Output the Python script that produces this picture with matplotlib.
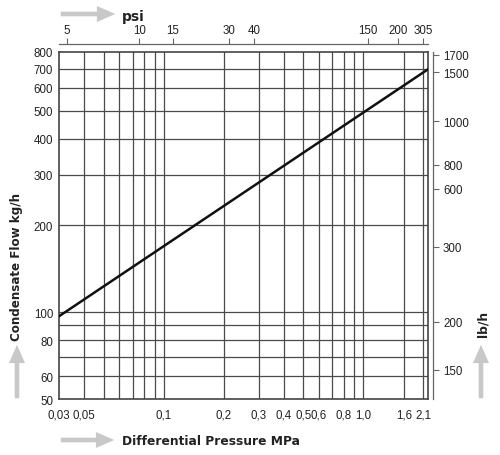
import matplotlib.pyplot as plt
from matplotlib import font_manager
from matplotlib.patches import FancyArrowPatch
from matplotlib.ticker import FixedLocator, NullLocator, FixedFormatter, NullFormatter

installed = {f.name for f in font_manager.fontManager.ttflist}
TICK_FONT = 'Liberation Sans Narrow' if 'Liberation Sans Narrow' in installed else 'Liberation Sans'
TICK_SIZE = 9.5 if TICK_FONT == 'Liberation Sans Narrow' else 8.3
plt.rcParams['font.family'] = [TICK_FONT, 'DejaVu Sans']

# line (MPa, kg/h)
pressure = [0.03, 2.1]
flow = [97, 695]

# bottom axis labels and where they sit
x_labels = ['0,03', '0,05', '0,1', '0,2', '0,3', '0,4', '0,5', '0,6', '0,8', '1,0', '1,6', '2,1']
x_label_pos = [0.03, 0.04, 0.1, 0.2, 0.3, 0.4, 0.5, 0.6, 0.8, 1.0, 1.6, 2.0]
x_grid = [0.04, 0.05, 0.06, 0.07, 0.08, 0.09, 0.1, 0.2, 0.3, 0.4, 0.5, 0.6,
          0.7, 0.8, 0.9, 1.0, 1.6, 2.0]

# left axis
y_labels = ['50', '60', '80', '100', '200', '300', '400', '500', '600', '700', '800']
y_label_pos = [50, 60, 80, 100, 200, 300, 400, 500, 600, 700, 800]
y_grid = [60, 70, 80, 90, 100, 200, 300, 400, 500, 600, 700]

# top axis (psi), positions in MPa as drawn
psi_labels = ['5', '10', '15', '30', '40', '150', '200', '305']
psi_pos = [0.0326, 0.0754, 0.111, 0.212, 0.284, 1.054, 1.494, 2.0]

# right axis (lb/h), positions in kg/h as drawn
lb_labels = ['1700', '1500', '1000', '800', '600', '300', '200', '150']
lb_pos = [782, 680, 460, 325, 268, 169, 92.7, 63.2]

GRID = '#4a4a4a'
EDGE = '#444444'
ARROW = '#c8c8c8'
TXT = '#222222'

fig = plt.figure(figsize=(5, 4.56), dpi=100)
ax = fig.add_axes([0.1186, 0.1228, 0.7364, 0.761])

ax.plot(pressure, flow, color='#111111', lw=1.8, zorder=5)
ax.set_xscale('log')
ax.set_yscale('log')
ax.set_xlim(0.03, 2.1)
ax.set_ylim(50, 800)

ax.xaxis.remove_overlapping_locs = False
ax.yaxis.remove_overlapping_locs = False
ax.xaxis.set_major_locator(FixedLocator(x_label_pos))
ax.xaxis.set_major_formatter(FixedFormatter(x_labels))
ax.xaxis.set_minor_locator(FixedLocator(x_grid))
ax.xaxis.set_minor_formatter(NullFormatter())
ax.yaxis.set_major_locator(FixedLocator(y_label_pos))
ax.yaxis.set_major_formatter(FixedFormatter(y_labels))
ax.yaxis.set_minor_locator(FixedLocator(y_grid))
ax.yaxis.set_minor_formatter(NullFormatter())
ax.grid(which='minor', color=GRID, lw=0.9)
ax.grid(which='major', visible=False)
ax.tick_params(which='both', length=0, labelsize=TICK_SIZE, colors=TXT)
ax.tick_params(axis='x', pad=7)
ax.tick_params(axis='y', pad=4.5)
for s in ax.spines.values():
    s.set_color(EDGE)
    s.set_linewidth(1.2)

# top psi axis
axt = ax.twiny()
axt.set_xscale('log')
axt.set_xlim(ax.get_xlim())
axt.xaxis.set_major_locator(FixedLocator(psi_pos))
axt.xaxis.set_major_formatter(FixedFormatter(psi_labels))
axt.xaxis.set_minor_locator(NullLocator())
axt.tick_params(axis='x', direction='out', length=4.5, width=0.8, color='#666666',
                labelsize=TICK_SIZE, labelcolor=TXT, pad=1.5)
for k in ['bottom', 'left', 'right']:
    axt.spines[k].set_visible(False)
axt.spines['top'].set_position(('outward', 5.5))
axt.spines['top'].set_color('#666666')
axt.spines['top'].set_linewidth(0.9)

# right lb/h axis
axr = ax.twinx()
axr.set_yscale('log')
axr.set_ylim(ax.get_ylim())
axr.yaxis.set_major_locator(FixedLocator(lb_pos))
axr.yaxis.set_major_formatter(FixedFormatter(lb_labels))
axr.yaxis.set_minor_locator(NullLocator())
axr.tick_params(axis='y', direction='out', length=4.5, width=0.8, color='#666666',
                labelsize=TICK_SIZE, labelcolor=TXT, pad=2.5)
for k in ['bottom', 'left', 'top']:
    axr.spines[k].set_visible(False)
axr.spines['right'].set_position(('outward', 4.2))
axr.spines['right'].set_color('#666666')
axr.spines['right'].set_linewidth(0.9)


# axis titles with grey arrows
def arrow(x0, y0, x1, y1):
    fig.patches.append(FancyArrowPatch(
        (x0, y0), (x1, y1), transform=None,
        arrowstyle='simple,head_length=1.2,head_width=1.05,tail_width=0.3',
        mutation_scale=11, color=ARROW, lw=0))


H = 456
arrow(58, H - 15, 118, H - 15)
arrow(58, H - 441, 117, H - 441)
arrow(17, H - 402, 17, H - 343)
arrow(481, H - 402, 481, H - 343)

bold = dict(fontweight='bold', color=TXT, family='DejaVu Sans')
fig.text(122 / 500, 1 - 17 / H, 'psi', fontsize=10, ha='left', va='center', **bold)
fig.text(122 / 500, 1 - 442 / H, 'Differential Pressure MPa', fontsize=8.8,
         ha='left', va='center', **bold)
fig.text(17 / 500, 1 - 267 / H, 'Condensate Flow kg/h', fontsize=8.6, rotation=90,
         ha='center', va='center', **bold)
fig.text(483 / 500, 1 - 324 / H, 'lb/h', fontsize=8.8, rotation=90,
         ha='center', va='center', **bold)

fig.savefig('out.png', dpi=100)
